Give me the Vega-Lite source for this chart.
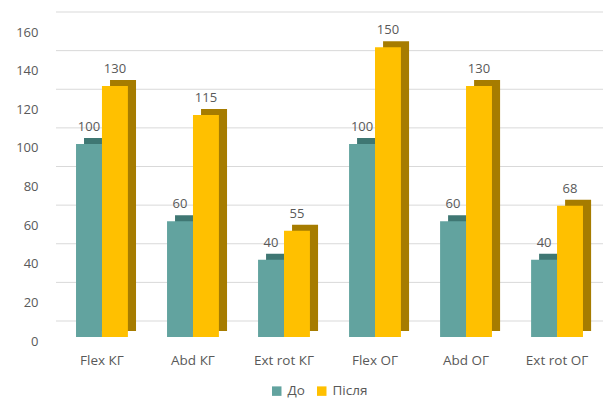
{
  "$schema": "https://vega.github.io/schema/vega-lite/v6.json",
  "width": 547,
  "height": 309,
  "autosize": "none",
  "padding": {"left": 56, "top": 28, "right": 9, "bottom": 65},
  "background": "white",
  "config": {
    "view": {"stroke": null},
    "font": "Open Sans",
    "axis": {"labelColor": "#595959", "labelFont": "Open Sans", "labelFontSize": 13}
  },
  "datasets": {
    "bars": [
      {"test": "Flex КГ", "period": "До", "value": 100},
      {"test": "Flex КГ", "period": "Після", "value": 130},
      {"test": "Abd КГ", "period": "До", "value": 60},
      {"test": "Abd КГ", "period": "Після", "value": 115},
      {"test": "Ext rot КГ", "period": "До", "value": 40},
      {"test": "Ext rot КГ", "period": "Після", "value": 55},
      {"test": "Flex ОГ", "period": "До", "value": 100},
      {"test": "Flex ОГ", "period": "Після", "value": 150},
      {"test": "Abd ОГ", "period": "До", "value": 60},
      {"test": "Abd ОГ", "period": "Після", "value": 130},
      {"test": "Ext rot ОГ", "period": "До", "value": 40},
      {"test": "Ext rot ОГ", "period": "Після", "value": 68}
    ],
    "grid": [
      {"v": 0}, {"v": 20}, {"v": 40}, {"v": 60}, {"v": 80},
      {"v": 100}, {"v": 120}, {"v": 140}, {"v": 160}
    ]
  },
  "layer": [
    {
      "data": {"name": "grid"},
      "mark": {"type": "rule", "color": "#d9d9d9", "strokeWidth": 1, "yOffset": -16},
      "encoding": {
        "y": {"field": "v", "type": "quantitative", "scale": {"domain": [0, 160]},
          "axis": {"values": [0, 20, 40, 60, 80, 100, 120, 140, 160], "title": null, "domain": false, "ticks": false, "grid": false, "labelPadding": 18, "labelOffset": 4}}
      }
    },
    {
      "data": {"name": "bars"},
      "encoding": {
        "x": {"field": "test", "type": "nominal", "sort": null,
          "scale": {"paddingInner": 0.43, "paddingOuter": 0.22},
          "axis": {"title": null, "domain": false, "ticks": false, "labelAngle": 0, "labelPadding": 16, "labelFontSize": 13.5}},
        "y": {"field": "value", "type": "quantitative", "scale": {"domain": [0, 160]},
          "axis": {"values": [0, 20, 40, 60, 80, 100, 120, 140, 160], "title": null, "domain": false, "ticks": false, "grid": false, "labelPadding": 18, "labelOffset": 4}}
      },
      "layer": [
        {
          "mark": {"type": "bar", "yOffset": -6},
          "encoding": {
            "xOffset": {"field": "period", "type": "nominal", "scale": {"domain": ["До", "Після"], "range": [8, 60]}},
            "color": {"field": "period", "type": "nominal", "legend": null,
              "scale": {"domain": ["До", "Після"], "range": ["#3f7773", "#a67c00"]}}
          }
        },
        {
          "layer": [
            {
              "mark": {"type": "bar"},
              "encoding": {
                "fill": {"field": "period", "type": "nominal",
                  "scale": {"domain": ["До", "Після"], "range": ["#62a39f", "#ffc000"]},
                  "legend": {"title": null, "orient": "none", "legendX": 214, "legendY": 356, "direction": "horizontal", "symbolType": "square",
                    "symbolSize": 90, "labelFontSize": 13.5, "labelColor": "#595959", "labelFont": "Open Sans",
                    "columnPadding": 10, "symbolStrokeWidth": 0}
                }
              }
            },
            {
              "mark": {"type": "text", "dy": -13, "baseline": "alphabetic", "fontSize": 13, "color": "#595959"},
              "encoding": {"text": {"field": "value", "type": "quantitative"}}
            }
          ],
          "encoding": {
            "xOffset": {"field": "period", "type": "nominal", "scale": {"domain": ["До", "Після"], "paddingInner": 0, "paddingOuter": 0}}
          }
        }
      ],
      "resolve": {"scale": {"xOffset": "independent", "color": "independent"}}
    }
  ]
}
